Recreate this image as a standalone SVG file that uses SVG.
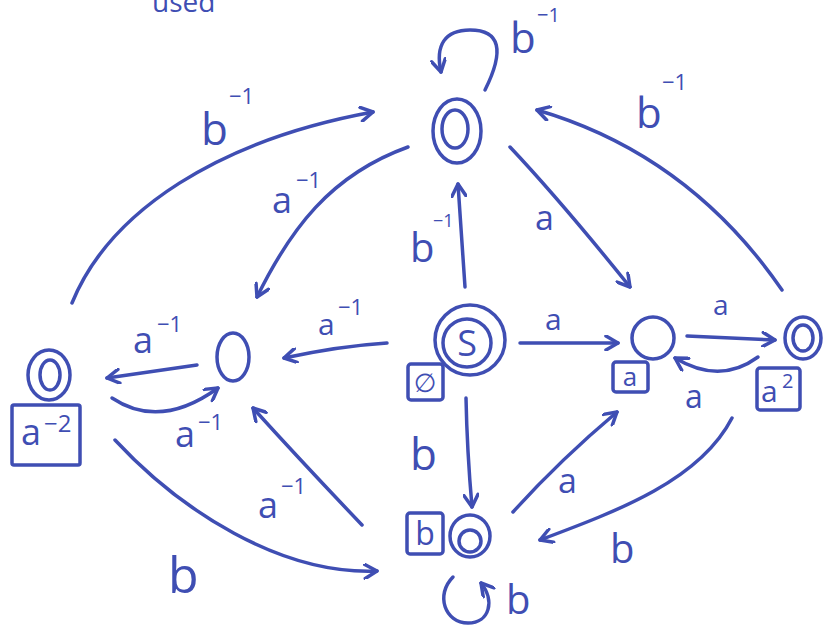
<svg xmlns="http://www.w3.org/2000/svg" width="827" height="627" viewBox="0 0 827 627">
<style>
.s{fill:none;stroke:#3f4eb3;stroke-width:3.5;stroke-linecap:round;stroke-linejoin:round}
.e{fill:none;stroke:#3f4eb3;stroke-width:3.5;stroke-linecap:round;stroke-linejoin:round;marker-end:url(#ah)}
text{fill:#3f4eb3;font-family:"Open Sans","Liberation Sans",sans-serif}
</style>
<defs>
<marker id="ah" viewBox="0 0 16 16" refX="14" refY="8" markerWidth="16" markerHeight="16" orient="auto" markerUnits="userSpaceOnUse">
<path d="M2,1 L14,8 L2,15" fill="none" stroke="#3f4eb3" stroke-width="3.5" stroke-linecap="round" stroke-linejoin="round"/>
</marker>
</defs>
<rect width="827" height="627" fill="#ffffff"/>
<text x="152" y="12" font-size="28">used</text>

<g id="connectors">
<path class="e" d="M520,343 L618,343"/>
<path class="e" d="M465,287 Q462,240 458,184"/>
<path class="e" d="M387,343 Q340,346 284,358"/>
<path class="e" d="M466,398 Q467,450 472,507"/>
<path class="e" d="M510,147 Q560,200 630,287"/>
<path class="e" d="M782,290 C720,200 640,140 537,110"/>
<path class="e" d="M408,147 C330,175 290,230 257,297"/>
<path class="e" d="M72,303 C110,210 220,140 373,112"/>
<path class="e" d="M197,365 L107,378"/>
<path class="e" d="M112,398 Q160,430 218,388"/>
<path class="e" d="M362,525 Q300,460 253,408"/>
<path class="e" d="M115,440 C180,510 280,575 377,571"/>
<path class="e" d="M513,512 Q560,460 617,412"/>
<path class="e" d="M687,336 L775,340"/>
<path class="e" d="M758,357 Q720,385 675,358"/>
<path class="e" d="M732,418 C700,480 620,510 540,540"/>
<path class="e" d="M485,90 C505,50 500,30 470,30 C445,30 435,45 441,72"/>
<path class="e" d="M453,577 C435,595 445,623 468,623 C490,623 495,600 481,583"/>
</g>

<g id="edge-labels">
<text x="545" y="330" font-size="30">a</text>
<text x="410" y="262" font-size="40">b<tspan x="433" y="227" font-size="18">−1</tspan></text>
<text x="318" y="335" font-size="30">a<tspan x="338" y="315" font-size="22">−1</tspan></text>
<text x="410" y="470" font-size="44">b</text>
<text x="535" y="230" font-size="34">a</text>
<text x="636" y="128" font-size="42">b<tspan x="662" y="90" font-size="22">−1</tspan></text>
<text x="272" y="213" font-size="36">a<tspan x="296" y="188" font-size="22">−1</tspan></text>
<text x="201" y="145" font-size="44">b<tspan x="229" y="104" font-size="22">−1</tspan></text>
<text x="133" y="353" font-size="36">a<tspan x="157" y="332" font-size="22">−1</tspan></text>
<text x="175" y="447" font-size="36">a<tspan x="198" y="430" font-size="22">−1</tspan></text>
<text x="258" y="518" font-size="36">a<tspan x="281" y="494" font-size="22">−1</tspan></text>
<text x="168" y="593" font-size="50">b</text>
<text x="558" y="493" font-size="34">a</text>
<text x="713" y="315" font-size="28">a</text>
<text x="685" y="408" font-size="32">a</text>
<text x="610" y="563" font-size="40">b</text>
<text x="510" y="53" font-size="42">b<tspan x="537" y="22" font-size="20">−1</tspan></text>
<text x="506" y="614" font-size="40">b</text>
</g>

<g id="node-S">
<circle class="s" cx="470" cy="340" r="35"/>
<circle class="s" cx="467" cy="343" r="24"/>
<text x="467" y="356" font-size="36" text-anchor="middle">S</text>
<rect class="s" x="408" y="364" width="35" height="36" rx="3"/>
<text x="425" y="392" font-size="26" text-anchor="middle" style="font-family:'DejaVu Sans',sans-serif">∅</text>
</g>

<g id="node-a-inv">
<ellipse class="s" cx="233" cy="357" rx="16" ry="24"/>
</g>

<g id="node-a-inv2">
<ellipse class="s" cx="49" cy="375" rx="21" ry="25"/>
<ellipse class="s" cx="50" cy="375" rx="10" ry="15"/>
<rect class="s" x="12" y="405" width="68" height="60" rx="2"/>
<text x="21" y="445" font-size="36">a<tspan x="44" y="432" font-size="24">−2</tspan></text>
</g>

<g id="node-b-inv">
<ellipse class="s" cx="457" cy="131" rx="24" ry="32"/>
<ellipse class="s" cx="455" cy="129" rx="13" ry="19"/>
</g>

<g id="node-a">
<circle class="s" cx="653" cy="338" r="21"/>
<rect class="s" x="613" y="362" width="35" height="30" rx="3"/>
<text x="630" y="386" font-size="26" text-anchor="middle">a</text>
</g>

<g id="node-a2">
<ellipse class="s" cx="803" cy="338" rx="18" ry="21"/>
<ellipse class="s" cx="803" cy="338" rx="10" ry="13"/>
<rect class="s" x="757" y="368" width="43" height="42" rx="3"/>
<text x="761" y="402" font-size="30">a<tspan x="782" y="388" font-size="20">2</tspan></text>
</g>

<g id="node-b">
<ellipse class="s" cx="470" cy="536" rx="20" ry="21"/>
<circle class="s" cx="470" cy="541" r="11"/>
<rect class="s" x="407" y="513" width="36" height="41" rx="3"/>
<text x="425" y="545" font-size="32" text-anchor="middle">b</text>
</g>
</svg>
